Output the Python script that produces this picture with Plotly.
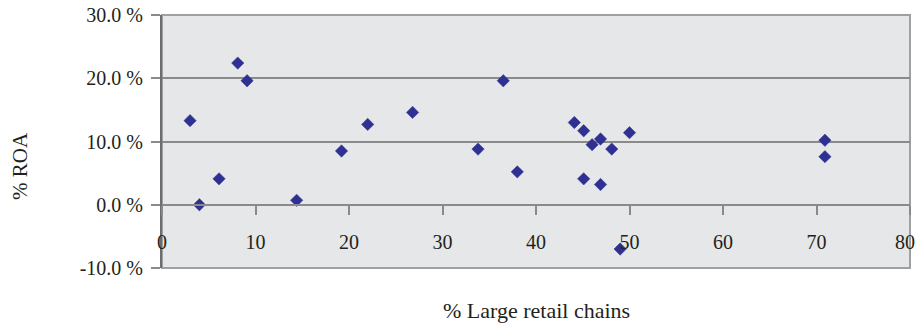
import plotly.graph_objects as go

# Data
large_retail_pct = [3.0, 4.0, 6.1, 8.1, 9.1, 14.4, 19.2, 22.0, 26.8, 33.8, 36.5, 38.0,
                    44.1, 45.1, 46.0, 46.9, 48.1, 50.0, 45.1, 46.9, 49.0, 70.9, 70.9]
roa_pct = [13.3, 0.0, 4.1, 22.4, 19.6, 0.7, 8.5, 12.7, 14.6, 8.8, 19.6, 5.2,
           13.0, 11.7, 9.5, 10.4, 8.8, 11.4, 4.1, 3.2, -7.0, 10.2, 7.6]

x_ticks = [0, 10, 20, 30, 40, 50, 60, 70, 80]
y_ticks = [-10, 0, 10, 20, 30]
y_tick_labels = ["-10.0 %", "0.0 %", "10.0 %", "20.0 %", "30.0 %"]

FONT = "Liberation Serif"
TXT = "#231f20"

# last x label nudged left (padding) so it stays inside the page edge, as in the reference
x_tick_text = [str(v) for v in x_ticks[:-1]] + [str(x_ticks[-1]) + "\u00a0\u00a0"]

fig = go.Figure()
fig.add_trace(go.Scatter(
    x=large_retail_pct, y=roa_pct, mode="markers",
    marker=dict(symbol="diamond", size=9.5, color="#2e3192",
                line=dict(color="#2e3192", width=0.5)),
    showlegend=False, cliponaxis=False,
))

fig.update_layout(
    width=917, height=323,
    margin=dict(l=162, r=7, t=15, b=55, autoexpand=False),
    paper_bgcolor="white",
    plot_bgcolor="#e6e7e8",
    font=dict(family=FONT, size=20, color=TXT),
    xaxis=dict(
        range=[0, 80], tickvals=x_ticks, ticktext=x_tick_text,
        anchor="free", position=0.25, automargin=False,
        showgrid=False, zeroline=False,
        showline=True, linecolor="#8a8a8a", linewidth=1.5,
        ticks="outside", ticklen=9, tickcolor="#8a8a8a", tickwidth=1.5,
        ticklabelstandoff=10, ticklabeloverflow="allow",
        tickfont=dict(family=FONT, size=20, color=TXT),
    ),
    yaxis=dict(
        range=[-10, 30], tickvals=y_ticks, ticktext=y_tick_labels,
        automargin=False,
        showgrid=True, gridcolor="#8a8a8a", gridwidth=1.5,
        zeroline=False,
        showline=True, linecolor="#6d6d6d", linewidth=2,
        ticks="outside", ticklen=9, tickcolor="#8a8a8a", tickwidth=1.5,
        ticklabelstandoff=4, ticklabeloverflow="allow",
        tickfont=dict(family=FONT, size=20, color=TXT),
    ),
    shapes=[dict(type="rect", xref="paper", yref="paper", x0=0, x1=1, y0=0, y1=1,
                 line=dict(color="#a0a0a0", width=2), layer="below")],
    annotations=[
        dict(text="% ROA", xref="paper", yref="paper", x=-0.19, y=0.403,
             textangle=-90, showarrow=False, xanchor="center", yanchor="middle",
             font=dict(family=FONT, size=21, color=TXT)),
        dict(text="% Large retail chains", xref="paper", yref="paper", x=0.5, y=-0.168,
             showarrow=False, xanchor="center", yanchor="middle",
             font=dict(family=FONT, size=22, color=TXT)),
    ],
)

fig.write_html("out.html", config={"displayModeBar": False},
               post_script="document.body.style.margin='0';")
